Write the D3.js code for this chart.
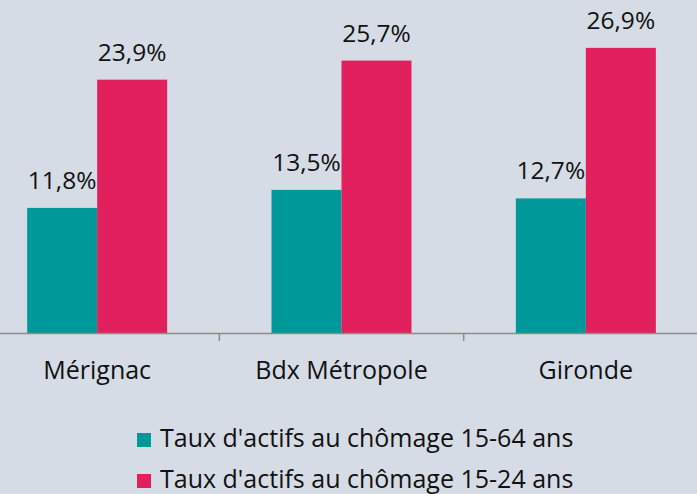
<!DOCTYPE html>
<html>
<head>
<meta charset="utf-8">
<script src="https://cdn.jsdelivr.net/npm/d3@7"></script>
<style>
  body { margin: 0; background: #d6dce5; }
  svg { display: block; font-family: "Open Sans", "Noto Sans", sans-serif; }
</style>
</head>
<body>
<script>
(function() {

    const width = 697;
    const height = 494;

    const categories = ["Mérignac", "Bdx Métropole", "Gironde"];
    const seriesNames = ["Taux d'actifs au chômage 15-64 ans", "Taux d'actifs au chômage 15-24 ans"];
    const values1564 = [11.8, 13.5, 12.7];
    const values1524 = [23.9, 25.7, 26.9];
    const colors = ["#009999", "#e2205e"];

    const svg = d3.select("body")
        .append("svg")
        .attr("width", width)
        .attr("height", height);

    svg.append("rect")
        .attr("width", width)
        .attr("height", height)
        .attr("fill", "#d6dce5");

    // band for each place, the plot area runs a bit off both edges
    let x = d3.scaleBand()
        .domain(categories)
        .range([-25, 708])
        .paddingInner(0)
        .paddingOuter(0);

    let inner = d3.scaleBand()
        .domain([0, 1])
        .range([x.bandwidth() / 2 - 70, x.bandwidth() / 2 + 70]);

    let y = d3.scaleLinear()
        .domain([0, 30])
        .range([333, 15]);

    let rows = categories.map((c, i) => ({ cat: c, vals: [values1564[i], values1524[i]] }));

    let groups = svg.selectAll("g.cat")
        .data(rows)
        .enter()
        .append("g")
        .attr("class", "cat")
        .attr("transform", d => "translate(" + x(d.cat) + ",0)");

    groups.selectAll("rect")
        .data(d => d.vals)
        .enter()
        .append("rect")
        .attr("x", (d, i) => inner(i))
        .attr("width", inner.bandwidth())
        .attr("y", d => y(d))
        .attr("height", d => y(0) - y(d))
        .attr("fill", (d, i) => colors[i]);

    groups.selectAll("text.val")
        .data(d => d.vals)
        .enter()
        .append("text")
        .attr("class", "val")
        .attr("x", (d, i) => inner(i) + inner.bandwidth() / 2)
        .attr("y", d => y(d) - 19)
        .attr("text-anchor", "middle")
        .attr("font-size", 24.5)
        .attr("fill", "#111")
        .text(d => d.toFixed(1).replace(".", ",") + "%");

    // axis line and ticks between the places
    let axis = svg.append("g")
        .attr("transform", "translate(0," + y(0) + ")")
        .call(d3.axisBottom(x).tickSize(0).tickPadding(0).tickFormat(""));
    axis.select(".domain").attr("stroke", "#8c8c8c").attr("stroke-width", 1.5);

    svg.selectAll("line.sep")
        .data(categories.slice(1))
        .enter()
        .append("line")
        .attr("class", "sep")
        .attr("x1", d => x(d))
        .attr("x2", d => x(d))
        .attr("y1", y(0))
        .attr("y2", y(0) + 8)
        .attr("stroke", "#8c8c8c")
        .attr("stroke-width", 1.5);

    svg.selectAll("text.cat")
        .data(categories)
        .enter()
        .append("text")
        .attr("class", "cat")
        .attr("x", d => x(d) + x.bandwidth() / 2)
        .attr("y", 379)
        .attr("text-anchor", "middle")
        .attr("font-size", 25)
        .attr("fill", "#111")
        .text(d => d);

    // legend
    let legend = svg.selectAll("g.legend")
        .data(seriesNames)
        .enter()
        .append("g")
        .attr("class", "legend")
        .attr("transform", (d, i) => "translate(137," + (433 + i * 41) + ")");

    legend.append("rect")
        .attr("width", 14)
        .attr("height", 14)
        .attr("fill", (d, i) => colors[i]);

    legend.append("text")
        .attr("x", 23)
        .attr("y", 14)
        .attr("font-size", 25)
        .attr("fill", "#111")
        .text(d => d);

})();
</script>
</body>
</html>
